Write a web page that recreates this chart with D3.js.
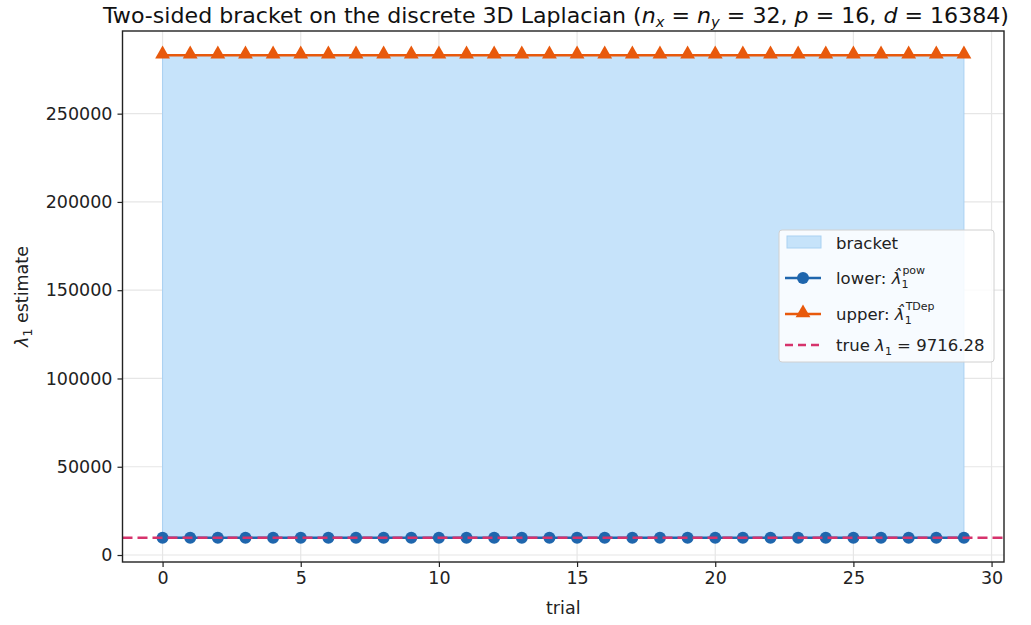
<!DOCTYPE html>
<html>
<head>
<meta charset="utf-8">
<script src="https://cdn.jsdelivr.net/npm/d3@7"></script>
<style>
  body { margin: 0; background: #fff; }
  svg { font-family: "DejaVu Sans", sans-serif; }
</style>
</head>
<body>
<svg id="chart" width="1031" height="625"></svg>
<script>
// data
const trials = d3.range(0, 30)
const lowerValues = [9716, 9716, 9716, 9716, 9716, 9716, 9716, 9716, 9716, 9716,
  9716, 9716, 9716, 9716, 9716, 9716, 9716, 9716, 9716, 9716,
  9716, 9716, 9716, 9716, 9716, 9716, 9716, 9716, 9716, 9716]
const upperValues = [283150, 283150, 283150, 283150, 283150, 283150, 283150, 283150, 283150, 283150,
  283150, 283150, 283150, 283150, 283150, 283150, 283150, 283150, 283150, 283150,
  283150, 283150, 283150, 283150, 283150, 283150, 283150, 283150, 283150, 283150]
const trueLambda = 9716.28
const xTicks = [0, 5, 10, 15, 20, 25, 30]
const yTicks = [0, 50000, 100000, 150000, 200000, 250000]

const margin = { top: 31, right: 27, bottom: 63, left: 122.5 }
const svg = d3.select('#chart')
const width = 1031 - margin.left - margin.right
const height = 625 - margin.top - margin.bottom

const colors = { fill: '#c6e3fa', fillEdge: '#a9d1f2', lower: '#1f66ad', upper: '#e8590c', truth: '#d6336c' }
const fs = 17.5

// matplotlib-like 5% margins
const xMin = d3.min(trials), xMax = d3.max(trials)
const xPad = (xMax - xMin) * 0.05
const xScale = d3.scaleLinear().domain([xMin - xPad, xMax + xPad]).range([0, width])
const yLo = d3.min(lowerValues), yHi = d3.max(upperValues)
const yPad = (yHi - yLo) * 0.05
const yScale = d3.scaleLinear().domain([yLo - yPad, yHi + yPad]).range([height, 0])

const g = svg.append('g').attr('transform', 'translate(' + margin.left + ',' + margin.top + ')')

// grid
g.append('g').selectAll('line').data(xTicks).join('line')
  .attr('x1', d => xScale(d)).attr('x2', d => xScale(d))
  .attr('y1', 0).attr('y2', height)
  .attr('stroke', '#e6e6e6').attr('stroke-width', 1.2)
g.append('g').selectAll('line').data(yTicks).join('line')
  .attr('x1', 0).attr('x2', width)
  .attr('y1', d => yScale(d)).attr('y2', d => yScale(d))
  .attr('stroke', '#e6e6e6').attr('stroke-width', 1.2)

const rows = trials.map((t, i) => ({ t: t, lo: lowerValues[i], hi: upperValues[i] }))

// bracket fill
g.append('path').datum(rows)
  .attr('d', d3.area().x(d => xScale(d.t)).y0(d => yScale(d.lo)).y1(d => yScale(d.hi)))
  .attr('fill', colors.fill).attr('stroke', colors.fillEdge).attr('stroke-width', 1)

// lower line + circles
g.append('path').datum(rows)
  .attr('d', d3.line().x(d => xScale(d.t)).y(d => yScale(d.lo)))
  .attr('fill', 'none').attr('stroke', colors.lower).attr('stroke-width', 2.5)
g.append('g').selectAll('circle').data(rows).join('circle')
  .attr('cx', d => xScale(d.t)).attr('cy', d => yScale(d.lo)).attr('r', 6)
  .attr('fill', colors.lower)

// upper line + triangles
g.append('path').datum(rows)
  .attr('d', d3.line().x(d => xScale(d.t)).y(d => yScale(d.hi)))
  .attr('fill', 'none').attr('stroke', colors.upper).attr('stroke-width', 2.5)
const tri = d3.symbol().type(d3.symbolTriangle).size(95)
g.append('g').selectAll('path').data(rows).join('path')
  .attr('d', tri)
  .attr('transform', d => 'translate(' + xScale(d.t) + ',' + (yScale(d.hi) - 1) + ')')
  .attr('fill', colors.upper)

// true value
g.append('line')
  .attr('x1', 0).attr('x2', width)
  .attr('y1', yScale(trueLambda)).attr('y2', yScale(trueLambda))
  .attr('stroke', colors.truth).attr('stroke-width', 2.5).attr('stroke-dasharray', '10,5')

// axes
const xAxis = g.append('g').attr('transform', 'translate(0,' + height + ')')
  .call(d3.axisBottom(xScale).tickValues(xTicks).tickSize(5).tickPadding(5))
const yAxis = g.append('g')
  .call(d3.axisLeft(yScale).tickValues(yTicks).tickSize(5).tickPadding(5).tickFormat(d3.format('d')))
;[xAxis, yAxis].forEach(a => {
  a.select('.domain').remove()
  a.attr('font-family', 'DejaVu Sans')
  a.selectAll('text').attr('font-size', fs).attr('fill', '#222')
  a.selectAll('line').attr('stroke', '#222').attr('stroke-width', 1.2)
})
g.append('rect').attr('width', width).attr('height', height)
  .attr('fill', 'none').attr('stroke', '#222').attr('stroke-width', 1.4)

// labels
svg.append('text').attr('x', margin.left + width / 2).attr('y', 614)
  .attr('text-anchor', 'middle').attr('font-size', fs).attr('fill', '#222').text('trial')
const yl = svg.append('text')
  .attr('transform', 'translate(28,' + (margin.top + height / 2) + ') rotate(-90)')
  .attr('text-anchor', 'middle').attr('font-size', fs).attr('fill', '#222')
yl.append('tspan').attr('font-style', 'italic').text('λ')
yl.append('tspan').attr('font-size', 12.5).attr('dy', 4).text('1')
yl.append('tspan').attr('dy', -4).text(' estimate')

const title = svg.append('text').attr('x', 103).attr('y', 23)
  .attr('textLength', 906).attr('lengthAdjust', 'spacingAndGlyphs')
  .attr('font-size', 21).attr('fill', '#111')
title.append('tspan').text('Two-sided bracket on the discrete 3D Laplacian (')
title.append('tspan').attr('font-style', 'italic').text('n')
title.append('tspan').attr('font-size', 14).attr('dy', 4).attr('font-style', 'italic').text('x')
title.append('tspan').attr('dy', -4).text(' = ')
title.append('tspan').attr('font-style', 'italic').text('n')
title.append('tspan').attr('font-size', 14).attr('dy', 4).attr('font-style', 'italic').text('y')
title.append('tspan').attr('dy', -4).text(' = 32, ')
title.append('tspan').attr('font-style', 'italic').text('p')
title.append('tspan').text(' = 16, ')
title.append('tspan').attr('font-style', 'italic').text('d')
title.append('tspan').text(' = 16384)')

// legend
const lg = svg.append('g').attr('transform', 'translate(779,230)')
lg.append('rect').attr('width', 215).attr('height', 132).attr('rx', 3)
  .attr('fill', '#fff').attr('fill-opacity', 0.85).attr('stroke', '#d0d0d0')
lg.append('rect').attr('x', 8).attr('y', 6).attr('width', 34).attr('height', 12)
  .attr('fill', colors.fill).attr('stroke', colors.fillEdge)
lg.append('line').attr('x1', 6).attr('x2', 42).attr('y1', 48).attr('y2', 48)
  .attr('stroke', colors.lower).attr('stroke-width', 2.5)
lg.append('circle').attr('cx', 24).attr('cy', 48).attr('r', 6).attr('fill', colors.lower)
lg.append('line').attr('x1', 6).attr('x2', 42).attr('y1', 84).attr('y2', 84)
  .attr('stroke', colors.upper).attr('stroke-width', 2.5)
lg.append('path').attr('d', tri).attr('transform', 'translate(24,83)').attr('fill', colors.upper)
lg.append('line').attr('x1', 6).attr('x2', 42).attr('y1', 115).attr('y2', 115)
  .attr('stroke', colors.truth).attr('stroke-width', 2.5).attr('stroke-dasharray', '8,5')

const lfs = 16.5
const lt = (y) => lg.append('text').attr('x', 57).attr('y', y).attr('font-size', lfs).attr('fill', '#222')
lt(19).text('bracket')
const t1 = lt(54)
t1.append('tspan').text('lower: ')
t1.append('tspan').attr('font-style', 'italic').text('λ\u0302')
t1.append('tspan').attr('font-size', 11).attr('dy', 4).text('1')
t1.append('tspan').attr('font-size', 11).attr('dx', -6).attr('dy', -14).text('pow')
const t2 = lt(90)
t2.append('tspan').text('upper: ')
t2.append('tspan').attr('font-style', 'italic').text('λ\u0302')
t2.append('tspan').attr('font-size', 11).attr('dy', 4).text('1')
t2.append('tspan').attr('font-size', 11).attr('dx', -6).attr('dy', -14).text('TDep')
const t3 = lt(121)
t3.append('tspan').text('true ')
t3.append('tspan').attr('font-style', 'italic').text('λ')
t3.append('tspan').attr('font-size', 11).attr('dy', 4).text('1')
t3.append('tspan').attr('dy', -4).text(' = 9716.28')
</script>
</body>
</html>
